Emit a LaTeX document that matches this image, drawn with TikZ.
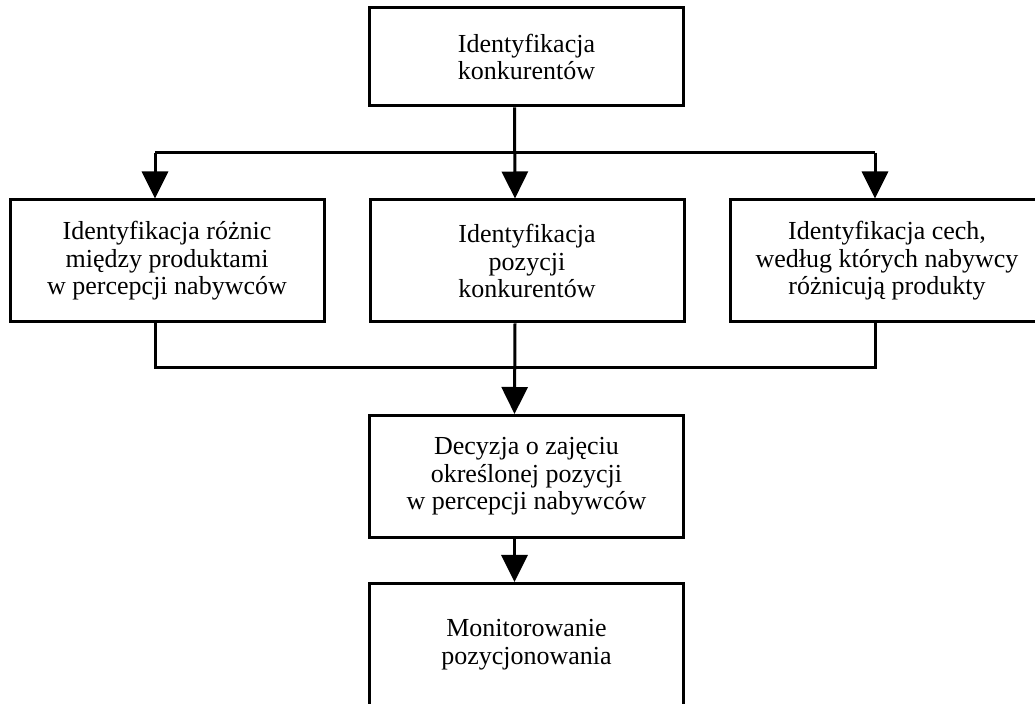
\documentclass[tikz,border=0pt]{standalone}
\usepackage{fontspec}
\setmainfont{Liberation Serif}
\usetikzlibrary{arrows.meta}

\tikzset{
	box/.style={draw, line width=1.5pt, inner sep=0pt, align=center,
		minimum width=157pt, minimum height=61pt,
		font=\fontsize{13}{13.75}\selectfont},
	arr/.style={line width=1.5pt, -{Triangle[width=13pt,length=13.5pt]}},
	link/.style={line width=1.5pt}
}

\begin{document}
\begin{tikzpicture}[x=0.5pt, y=-0.5pt]

\clip (0,0) rectangle (1035,704);

% Prostokaty
\node[box, minimum height=49pt] (ident) at (526.5,57) {Identyfikacja\\konkurentów};

\node[box] (roznice) at (167,261) {Identyfikacja różnic\\między produktami\\w percepcji nabywców};
\node[box] (pozycje) at (527,261) {Identyfikacja\\pozycji\\konkurentów};
\node[box] (cechy) at (887,261) {Identyfikacja cech,\\według których nabywcy\\różnicują produkty};

\node[box] (decyzja) at (526.5,476.5) {Decyzja o zajęciu\\określonej pozycji\\w percepcji nabywców};
\node[box] (monitor) at (526.5,644.5) {Monitorowanie\\pozycjonowania};

% Polaczenia
\coordinate (gl) at (155,153);
\coordinate (gp) at (875,153);
\coordinate (dl) at (155,368);
\coordinate (dp) at (875,368);

\draw[link] (gl) -- (gp);
\draw[arr] (gl) -- (gl |- roznice.north);
\draw[arr] (gp) -- (gp |- cechy.north);
\draw[arr] ([xshift=-6pt]ident.south) -- ([xshift=-6pt]pozycje.north);

\draw[link] (dl |- roznice.south) -- (dl) -- (dp) -- (dp |- cechy.south);
\draw[arr] ([xshift=-6pt]pozycje.south) -- ([xshift=-6pt]decyzja.north);
\draw[arr] ([xshift=-6pt]decyzja.south) -- ([xshift=-6pt]monitor.north);

\end{tikzpicture}
\end{document}
